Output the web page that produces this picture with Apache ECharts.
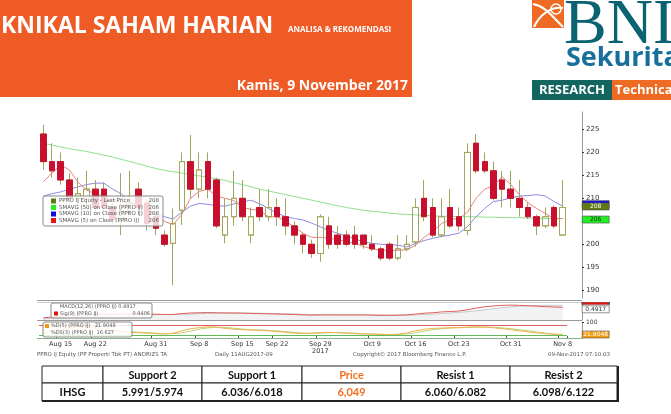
<!DOCTYPE html>
<html>
<head>
<meta charset="utf-8">
<script src="https://cdn.jsdelivr.net/npm/echarts@6/dist/echarts.min.js"></script>
<style>
html,body{margin:0;padding:0;background:#fff}
#main{width:671px;height:414px}
</style>
</head>
<body>
<div id="main"></div>
<script>
// trading days shown on the chart
var dates = ['Aug 11','Aug 14','Aug 15','Aug 16','Aug 18','Aug 21','Aug 22','Aug 23','Aug 24','Aug 25','Aug 28','Aug 29','Aug 30','Aug 31',
  'Sep 4','Sep 5','Sep 6','Sep 7','Sep 8','Sep 11','Sep 12','Sep 13','Sep 14','Sep 15','Sep 18','Sep 19','Sep 20','Sep 22','Sep 25','Sep 26','Sep 27','Sep 28','Sep 29',
  'Oct 2','Oct 3','Oct 4','Oct 5','Oct 6','Oct 9','Oct 10','Oct 11','Oct 12','Oct 13','Oct 16','Oct 17','Oct 18','Oct 19','Oct 20','Oct 23','Oct 24','Oct 25','Oct 26','Oct 27','Oct 30','Oct 31',
  'Nov 1','Nov 2','Nov 3','Nov 6','Nov 7','Nov 8'];
var tickDays = ['Aug 15','Aug 22','Aug 31','Sep 8','Sep 15','Sep 22','Sep 29','Oct 9','Oct 16','Oct 23','Oct 31','Nov 8'];

var openP = [224,218,218,214,210,210,212,212,208,205, 207,212,209,206,202,200.2,207.4,218,212,218,
  214,202,206,210,202,208,206,208,206,204, 202,200,198,204,202,202,202,202,200,199,
  200,197,199,200.5,210,208,202,208,206,203, 222,218,216,214,212,210,208,206,204,208, 202];
var closeP = [218,216,214,210,211,212,208,208,205.5,207, 209,208,204.5,203.5,200,204.5,218,212,216.2,212,
  204,206,210,206,206,206,208,206,204,202, 200,198,206,200,200,200,200,200,199,197,
  197,199,200,208,206,202,206,204,204,220, 216,216,210,212,210,208,206,204,206,204, 208];
var lowP = [216.2,214.5,213,209,207,208,207,206,204.5,202, 206,207,203,202,199.5,191.1,204.2,210,210,210,
  203.5,200.2,204,205,200.2,205,205,204,202,200, 198,197,196.2,199,199,199.5,199,199,198.5,196.5,
  196.5,196.5,198.5,199.5,205,201.5,201.5,203.5,203,202, 215.5,215.5,209.5,208,208,206,205.5,202,203.5,203.5, 202];
var highP = [226,222,220,215.5,214.5,216,214,213.5,209,215.5, 216,213.5,210,206.5,203,207.8,220,223.8,220,220,
  214.5,210,216,214,208,212,212,210,210,205, 202.5,201,206.5,206,204,203,204,202,202,199.5,
  200.5,202,202,210,214,210,210,212,208,222, 224,220,218,216,216,214,209,206.5,208,208.5, 214];

var sma50 = [222,221.6,221.2,220.8,220.5,220.2,219.8,219.4,219,218.5, 218,217.5,217,216.5,216.1,215.8,215.5,215.2,214.9,214.6,
  214.3,213.9,213.4,213,212.5,212,211.6,211.2,210.8,210.4, 210,209.6,209.2,208.8,208.4,208,207.7,207.4,207.2,207,
  206.8,206.6,206.5,206.4,206.3,206.2,206.1,206.1,206,206, 206,205.9,205.9,205.8,205.8,205.8,205.7,205.7,205.6,205.6, 205.6];
var sma10 = [210.5,211,211.4,212,212.5,213,213.3,213.3,212,211, 209.5,208,207.3,206.5,206,205.5,207,208.3,208.9,208.7,
  208.4,208.3,208.8,209.2,209.6,208.8,207.8,206.8,206,205.6, 205.3,204.6,203.8,203,202.4,201.8,201.2,200.5,200.2,200,
  199.9,199.8,199.4,200.2,200.8,201.3,201.7,202,202.4,203.8, 206,207.8,209.3,209.6,210.1,210.5,210.6,210.8,210.5,209.3, 208.3];
var sma5 = [213.6,215.5,217.3,216.2,213.5,211.8,211,210.5,209.8,209.2, 208.8,208.6,208.2,206.5,205,204.3,206.5,210,211.5,212,
  210.5,210,209.5,208,207.6,207.4,206,206,205,203.8, 202.4,201.5,201.5,201.3,201,200.6,200.2,199.5,199,198.7,
  198.7,198.7,198.8,199.8,201.5,202.8,204.5,205.4,205.6,207, 210,212,212.7,214.7,213,210.8,209,207.8,206.7,205.6, 205.6];

var macdLine = [-2.0,-1.8,-1.6,-1.45,-1.35,-1.25,-1.2,-1.15,-1.1,-1.1, -1.05,-1.05,-1.1,-1.15,-1.2,-1.2,-1.0,-0.85,-0.8,-0.75,
  -0.8,-0.85,-0.85,-0.9,-0.95,-1.0,-1.05,-1.1,-1.15,-1.2, -1.3,-1.35,-1.3,-1.3,-1.3,-1.3,-1.3,-1.3,-1.35,-1.4,
  -1.4,-1.35,-1.3,-1.1,-0.9,-0.8,-0.6,-0.5,-0.4,-0.1, 0.3,0.6,0.8,0.95,1.0,0.95,0.85,0.75,0.65,0.55, 0.4917];
var sigLine = [-2.2,-2.1,-2.0,-1.9,-1.8,-1.7,-1.6,-1.5,-1.45,-1.4, -1.35,-1.3,-1.25,-1.2,-1.2,-1.2,-1.15,-1.1,-1.0,-0.95,
  -0.9,-0.88,-0.86,-0.86,-0.88,-0.9,-0.95,-1.0,-1.05,-1.1, -1.15,-1.2,-1.25,-1.28,-1.3,-1.3,-1.3,-1.3,-1.32,-1.34,
  -1.36,-1.36,-1.35,-1.3,-1.2,-1.1,-1.0,-0.85,-0.7,-0.55, -0.35,-0.1,0.15,0.4,0.6,0.75,0.85,0.92,0.96,0.96, 0.9406];
var stochD = [35,45,55,65,70,68,60,50,42,38, 35,33,30,27,25,30,45,58,65,70,
  68,60,55,52,50,48,45,40,35,30, 28,30,34,36,33,30,27,25,24,22,
  21,24,32,45,55,60,62,64,66,68, 70,68,64,58,52,45,38,32,27,24, 21.9048];
var stochDS = [30,35,42,52,60,66,66,60,52,45, 40,36,33,30,28,27,32,42,55,63,
  67,66,61,56,52,50,48,44,40,35, 31,29,30,33,34,33,30,27,25,24,
  22,22,25,33,43,52,58,62,64,66, 67,68,67,63,58,52,45,38,31,24, 16.627];

var tableHead = ['', 'Support 2', 'Support 1', 'Price', 'Resist 1', 'Resist 2'];
var tableRow = ['IHSG', '5.991/5.974', '6.036/6.018', '6,049', '6.060/6.082', '6.098/6.122'];

var olive = '#A3A65A';
var red = '#C8102E';
var orange = '#EF5B25';
var last = dates.length - 1;

var wickData = dates.map(function (d, i) { return [openP[i], closeP[i], lowP[i], highP[i]]; });
var bodyData = dates.map(function (d, i) {
  return [openP[i], closeP[i], Math.min(openP[i], closeP[i]), Math.max(openP[i], closeP[i])];
});

function tag(value, text, bg, fg, offY, h) {
  return {
    coord: [last, value], value: text,
    symbol: 'rect', symbolSize: [27, h || 7], symbolOffset: [33, offY || 0],
    itemStyle: { color: bg, borderColor: '#555', borderWidth: 0.5 },
    label: { show: true, formatter: text, color: fg, fontSize: 6, fontFamily: 'DejaVu Sans', position: 'inside' }
  };
}

// table graphic
var colX = [42, 103, 202, 302, 401, 510, 617];
var graphics = [];
for (var c = 0; c < 6; c++) {
  var cx = (colX[c] + colX[c + 1]) / 2;
  var col = c === 3 ? '#F26F21' : '#111';
  graphics.push({ type: 'rect', shape: { x: colX[c], y: 366, width: colX[c + 1] - colX[c], height: 17 },
    style: { fill: '#fff', stroke: '#222', lineWidth: 1 } });
  graphics.push({ type: 'rect', shape: { x: colX[c], y: 383, width: colX[c + 1] - colX[c], height: 18 },
    style: { fill: '#fff', stroke: '#222', lineWidth: 1 } });
  graphics.push({ type: 'text', x: cx, y: 375, style: { text: tableHead[c], fill: col, font: 'bold 11px Lato, sans-serif', textAlign: 'center', textVerticalAlign: 'middle' } });
  graphics.push({ type: 'text', x: cx, y: 392.5, style: { text: tableRow[c], fill: col, font: 'bold 11px Lato, sans-serif', textAlign: 'center', textVerticalAlign: 'middle' } });
}
graphics.push({ type: 'line', shape: { x1: 42, y1: 401, x2: 618, y2: 401 }, style: { stroke: '#222', lineWidth: 2 } });
graphics.push({ type: 'line', shape: { x1: 618, y1: 366, x2: 618, y2: 402 }, style: { stroke: '#222', lineWidth: 2 } });

// header banner and logo
graphics = graphics.concat([
  { type: 'rect', shape: { x: 0, y: 0, width: 412, height: 97 }, style: { fill: orange } },
  { type: 'text', x: 1, y: 26, style: { text: 'KNIKAL SAHAM HARIAN', fill: '#fff', font: 'bold 23px "Open Sans", sans-serif', textVerticalAlign: 'middle' } },
  { type: 'text', x: 288, y: 30, style: { text: 'ANALISA & REKOMENDASI', fill: '#fff', font: 'bold 8px "Open Sans", sans-serif', textVerticalAlign: 'middle' } },
  { type: 'text', x: 408, y: 86, style: { text: 'Kamis, 9 November 2017', fill: '#fff', font: 'bold 14px "Open Sans", sans-serif', textAlign: 'right', textVerticalAlign: 'middle' } },
  { type: 'rect', shape: { x: 532, y: 0, width: 32, height: 28 }, style: { fill: '#EF6A22' } },
  { type: 'bezierCurve', shape: { x1: 533, y1: 4, cpx1: 545, cpy1: 6, cpx2: 552, cpy2: 16, x2: 563, y2: 27 }, style: { stroke: '#fff', lineWidth: 2, fill: null } },
  { type: 'bezierCurve', shape: { x1: 534, y1: 27, cpx1: 540, cpy1: 14, cpx2: 552, cpy2: 6, x2: 563, y2: 8 }, style: { stroke: '#fff', lineWidth: 2, fill: null } },
  { type: 'circle', shape: { cx: 556, cy: 9, r: 5 }, style: { stroke: '#fff', lineWidth: 1.5, fill: null } },
  { type: 'text', x: 564, y: 26, style: { text: 'BNI', fill: '#0B6271', font: '64px "Liberation Serif", serif', textVerticalAlign: 'middle' } },
  { type: 'text', x: 566, y: 58, style: { text: 'Sekuritas', fill: '#16709A', font: 'bold 27px "Open Sans", sans-serif', textVerticalAlign: 'middle' } },
  { type: 'rect', shape: { x: 532, y: 80, width: 80, height: 20 }, style: { fill: '#12665F' } },
  { type: 'text', x: 572, y: 90.5, style: { text: 'RESEARCH', fill: '#fff', font: 'bold 13px "Liberation Sans Narrow", "Open Sans", sans-serif', textAlign: 'center', textVerticalAlign: 'middle' } },
  { type: 'rect', shape: { x: 612, y: 80, width: 59, height: 20 }, style: { fill: '#EF6A22' } },
  { type: 'text', x: 615, y: 90.5, style: { text: 'Technical', fill: '#fff', font: 'bold 13px "Liberation Sans Narrow", "Open Sans", sans-serif', textVerticalAlign: 'middle' } },
  // panel separators
  { type: 'line', shape: { x1: 37, y1: 300.5, x2: 582, y2: 300.5 }, style: { stroke: '#999', lineWidth: 1 } },
  { type: 'line', shape: { x1: 37, y1: 302.5, x2: 582, y2: 302.5 }, style: { stroke: '#ccc', lineWidth: 1 } },
  { type: 'line', shape: { x1: 37, y1: 320.5, x2: 582, y2: 320.5 }, style: { stroke: '#999', lineWidth: 1 } },
  { type: 'line', shape: { x1: 37, y1: 338.5, x2: 582, y2: 338.5 }, style: { stroke: '#8BB48B', lineWidth: 1 } },
  // footer
  { type: 'text', x: 37, y: 355, style: { text: 'PPRO IJ Equity (PP Properti Tbk PT) ANDRIZS TA', fill: '#555', font: '5.5px "DejaVu Sans"', textVerticalAlign: 'middle' } },
  { type: 'text', x: 215, y: 355, style: { text: 'Daily 11AUG2017-09', fill: '#555', font: '5.5px "DejaVu Sans"', textVerticalAlign: 'middle' } },
  { type: 'text', x: 353, y: 355, style: { text: 'Copyright\u00a9 2017 Bloomberg Finance L.P.', fill: '#555', font: '5.5px "DejaVu Sans"', textVerticalAlign: 'middle' } },
  { type: 'text', x: 610, y: 355, style: { text: '09-Nov-2017 07:10:03', fill: '#555', font: '5.5px "DejaVu Sans"', textAlign: 'right', textVerticalAlign: 'middle' } }
]);

// legend boxes sit on top of the plot
var legendBoxes = [
  { type: 'rect', z: 100, shape: { x: 43, y: 196, width: 120, height: 30, r: 2 }, style: { fill: 'rgba(255,255,255,0.8)', stroke: '#888', lineWidth: 1 } },
  { type: 'rect', z: 100, shape: { x: 51, y: 303, width: 101, height: 15, r: 2 }, style: { fill: 'rgba(255,255,255,0.85)', stroke: '#888', lineWidth: 1 } },
  { type: 'rect', z: 100, shape: { x: 43, y: 322, width: 89, height: 15, r: 2 }, style: { fill: 'rgba(255,255,255,0.85)', stroke: '#888', lineWidth: 1 } }
];
graphics = graphics.concat(legendBoxes);
var legRows = [
  ['#5E7A12', 'PPRO IJ Equity - Last Price', '208', 43, 201],
  ['#22EE22', 'SMAVG (50) on Close (PPRO IJ)', '206', 43, 207.5],
  ['#1010DD', 'SMAVG (10) on Close (PPRO IJ)', '208', 43, 214],
  ['#EE1111', 'SMAVG (5) on Close (PPRO IJ)', '206', 43, 220.5]
];
legRows.forEach(function (r) {
  graphics.push({ type: 'rect', z: 101, shape: { x: r[3] + 8, y: r[4] - 2.5, width: 5, height: 5 }, style: { fill: r[0] } });
  graphics.push({ type: 'text', z: 101, x: r[3] + 16, y: r[4], style: { text: r[1], fill: '#555', font: '5.5px "DejaVu Sans"', textVerticalAlign: 'middle' } });
  graphics.push({ type: 'text', z: 101, x: r[3] + 116, y: r[4], style: { text: r[2], fill: '#555', font: '5.5px "DejaVu Sans"', textAlign: 'right', textVerticalAlign: 'middle' } });
});
graphics.push({ type: 'text', z: 101, x: 60, y: 307, style: { text: 'MACD(12,26) (PPRO IJ) 0.4917', fill: '#555', font: '5px "DejaVu Sans"', textVerticalAlign: 'middle' } });
graphics.push({ type: 'rect', z: 101, shape: { x: 54, y: 311.5, width: 4, height: 4 }, style: { fill: '#E01010' } });
graphics.push({ type: 'text', z: 101, x: 60, y: 313.5, style: { text: 'Sig(9) (PPRO IJ)', fill: '#555', font: '5px "DejaVu Sans"', textVerticalAlign: 'middle' } });
graphics.push({ type: 'text', z: 101, x: 150, y: 313.5, style: { text: '0.9406', fill: '#555', font: '5px "DejaVu Sans"', textAlign: 'right', textVerticalAlign: 'middle' } });
graphics.push({ type: 'rect', z: 101, shape: { x: 45, y: 324, width: 4, height: 4 }, style: { fill: '#F39C12' } });
graphics.push({ type: 'text', z: 101, x: 51, y: 326, style: { text: '%D(5) (PPRO IJ)   21.9048', fill: '#555', font: '5px "DejaVu Sans"', textVerticalAlign: 'middle' } });
graphics.push({ type: 'text', z: 101, x: 51, y: 332.5, style: { text: '%DS(3) (PPRO IJ)  16.627', fill: '#555', font: '5px "DejaVu Sans"', textVerticalAlign: 'middle' } });

var hiddenX = function (gi) {
  return { type: 'category', gridIndex: gi, data: dates, boundaryGap: true,
    axisLine: { show: false }, axisTick: { show: false }, axisLabel: { show: false }, splitLine: { show: false } };
};
var isTick = function (idx, val) { return tickDays.indexOf(val) >= 0; };

var option = {
  backgroundColor: '#fff',
  animation: false,
  graphic: { elements: graphics },
  grid: [
    { left: 39, right: 104, top: 112, height: 186 },
    { left: 39, right: 104, top: 303, height: 17 },
    { left: 39, right: 104, top: 322, height: 16 }
  ],
  xAxis: [
    hiddenX(0),
    hiddenX(1),
    { type: 'category', gridIndex: 2, data: dates, boundaryGap: true,
      axisLine: { show: false },
      axisTick: { show: true, interval: isTick, length: 2, inside: true, lineStyle: { color: '#555' } },
      axisLabel: { interval: isTick, fontSize: 6.5, fontFamily: 'DejaVu Sans', color: '#333', margin: 3, lineHeight: 7,
        formatter: function (v) { return v === 'Sep 29' ? 'Sep 29\n2017' : v; } },
      splitLine: { show: false } }
  ],
  yAxis: [
    { type: 'value', gridIndex: 0, position: 'right', offset: 15, min: 188.3, max: 228.8, splitNumber: 8, scale: true,
      axisLine: { show: true, lineStyle: { color: '#999' } },
      axisTick: { show: true, length: 2, lineStyle: { color: '#333' } },
      axisLabel: { fontSize: 7, fontFamily: 'DejaVu Sans', color: '#333', margin: 4, showMinLabel: false, showMaxLabel: false },
      splitLine: { show: false } },
    { type: 'value', gridIndex: 1, position: 'right', offset: 15, min: -2.5, max: 1.5,
      axisLine: { show: true, lineStyle: { color: '#999' } }, axisTick: { show: false }, axisLabel: { show: false }, splitLine: { show: false } },
    { type: 'value', gridIndex: 2, position: 'right', offset: 15, min: 0, max: 100, interval: 100,
      axisLine: { show: true, lineStyle: { color: '#999' } },
      axisTick: { show: true, length: 2, lineStyle: { color: '#333' } },
      axisLabel: { fontSize: 6, fontFamily: 'DejaVu Sans', color: '#333', margin: 4, showMinLabel: false },
      splitLine: { show: false } }
  ],
  series: [
    { name: 'SMAVG (50)', type: 'line', xAxisIndex: 0, yAxisIndex: 0, data: sma50, symbol: 'none', z: 2,
      lineStyle: { color: '#8EE08E', width: 1 },
      markPoint: { z: 5, data: [tag(205.6, '206', '#22EE22', '#222', 1)] } },
    { name: 'SMAVG (10)', type: 'line', xAxisIndex: 0, yAxisIndex: 0, data: sma10, symbol: 'none', z: 2,
      lineStyle: { color: '#8C8CE6', width: 1 },
      markPoint: { z: 3, data: [tag(208.3, '', '#1010DD', '#fff', -2)] } },
    { name: 'SMAVG (5)', type: 'line', xAxisIndex: 0, yAxisIndex: 0, data: sma5, symbol: 'none', z: 2,
      lineStyle: { color: '#EC8080', width: 1 } },
    { name: 'wick', type: 'candlestick', xAxisIndex: 0, yAxisIndex: 0, data: wickData, barWidth: 6, z: 3,
      itemStyle: { color: 'transparent', color0: 'transparent', borderColor: olive, borderColor0: olive, borderWidth: 1 } },
    { name: 'PPRO IJ Equity', type: 'candlestick', xAxisIndex: 0, yAxisIndex: 0, data: bodyData, barWidth: 6, z: 4,
      itemStyle: { color: 'transparent', color0: red, borderColor: olive, borderColor0: red, borderWidth: 1 },
      markPoint: { z: 4, data: [tag(208, '208', '#5E7A12', '#fff', -1)] } },
    { name: 'Sig(9)', type: 'line', xAxisIndex: 1, yAxisIndex: 1, data: sigLine, symbol: 'none',
      lineStyle: { color: '#C8C8C8', width: 1 }, areaStyle: { color: 'rgba(200,200,200,0.35)', origin: 'start' },
      markPoint: { data: [tag(0.9406, '', '#E01010', '#fff', -2, 2.5)] } },
    { name: 'MACD(12,26)', type: 'line', xAxisIndex: 1, yAxisIndex: 1, data: macdLine, symbol: 'none',
      lineStyle: { color: '#E05A5A', width: 1 },
      markPoint: { data: [tag(0.4917, '0.4917', '#fff', '#333', 2)] } },
    { name: '%DS(3)', type: 'line', xAxisIndex: 2, yAxisIndex: 2, data: stochDS, symbol: 'none',
      lineStyle: { color: '#B8D27A', width: 1 },
      markLine: { silent: true, symbol: 'none', label: { show: false },
        data: [{ yAxis: 80, lineStyle: { color: '#E06060', width: 1, type: 'solid' } },
               { yAxis: 20, lineStyle: { color: '#5DBB5D', width: 1, type: 'solid' } }] } },
    { name: '%D(5)', type: 'line', xAxisIndex: 2, yAxisIndex: 2, data: stochD, symbol: 'none',
      lineStyle: { color: '#F2B24A', width: 1 },
      markPoint: { data: [tag(21.9048, '21.9048', '#F39C12', '#fff', 0)] } }
  ]
};

var chart = echarts.init(document.getElementById('main'));
chart.setOption(option);
window.addEventListener('resize', function () { chart.resize(); });
</script>
</body>
</html>
